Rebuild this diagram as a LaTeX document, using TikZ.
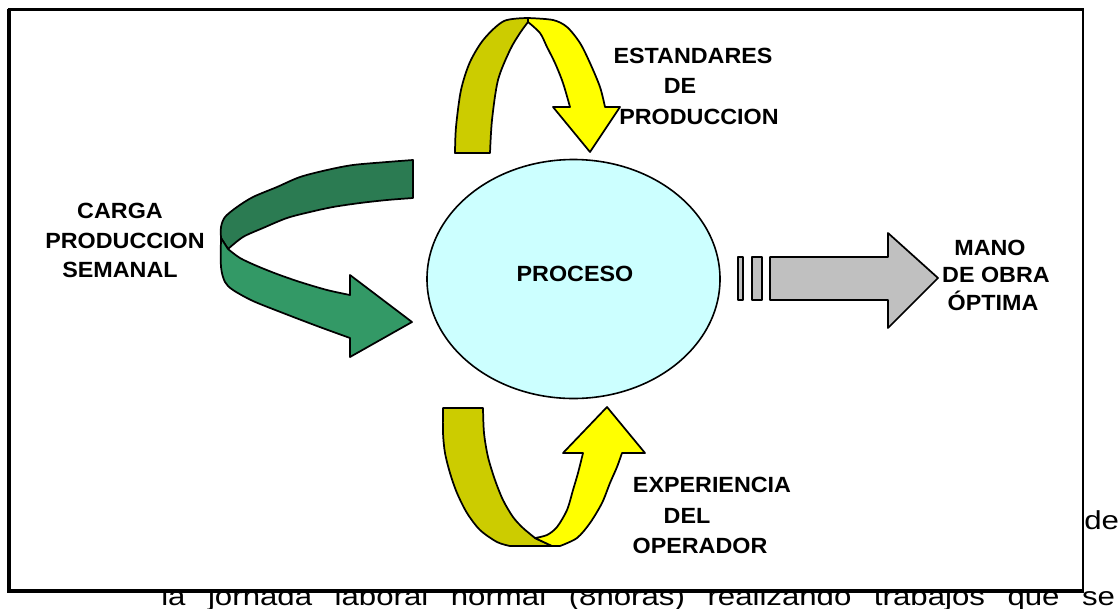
\documentclass[tikz,border=0pt]{standalone}
\usepackage{fontspec}
\usetikzlibrary{shapes.geometric}
\setmainfont{Liberation Sans}[FakeStretch=1.06]
\newfontfamily\bodyfont{Liberation Sans}[FakeStretch=1.2]
\definecolor{olivey}{HTML}{CCCC00}
\definecolor{yel}{HTML}{FFFF00}
\definecolor{gdark}{HTML}{2B7B52}
\definecolor{glight}{HTML}{339966}
\definecolor{cyanl}{HTML}{CCFFFF}
\definecolor{grayar}{HTML}{C0C0C0}
\begin{document}
\begin{tikzpicture}[x=0.75pt,y=-0.75pt,
  lab/.style={font=\bfseries\fontsize{16.5}{20}\selectfont, inner sep=0, anchor=base},
  body/.style={font=\bodyfont\fontsize{19.5}{24}\selectfont, inner sep=0, anchor=base west},
  arr/.style={draw=black, line width=1.3pt, line join=round}]
\useasboundingbox (0,0) rectangle (1118,608);
\clip (0,0) rectangle (1118,608);
\fill[white] (0,0) rectangle (1118,608);
% text behind the frame
\node[body] (de) at (1084,529) {de};
\node[body] (line2) at (161,605.5) {\makebox[715.5pt][s]{la jornada laboral normal (8horas) realizando trabajos que se}};
% frame
\fill[white] (9,10) rectangle (1083,591);
\draw[line width=2.4pt] (7.5,9.5) -- (1084,9.5);
\draw[line width=2.4pt] (9,8.5) -- (9,593);
\draw[line width=3.2pt] (7.5,591.2) -- (1084,591.2);
\draw[line width=1.5pt] (1083,8.5) -- (1083,592);
% ellipse
\node[draw=black, line width=1.2pt, fill=cyanl, ellipse, minimum width=219.75pt, minimum height=179.25pt, inner sep=0] (proc) at (573.5,279) {};
\node[lab] (proceso) at (575,281) {PROCESO};
% top arrow
\filldraw[arr, fill=olivey] plot[smooth] coordinates {(455,153) (456,127) (461,90) (470,62) (484,39) (504,21) (528,18)}
  -- plot[smooth] coordinates {(528,22) (520,33) (510,50) (498,80) (492,120) (490,153)} -- cycle;
\filldraw[arr, fill=yel] plot[smooth] coordinates {(528,18) (553,20) (567,27) (580,43) (590,63) (600,87) (605,107)}
  -- (620,107) -- (590,152) -- (553,107)
  -- plot[smooth] coordinates {(570,107) (563,83) (555,63) (547,47) (540,33) (528,22)} -- cycle;
% bottom arrow
\filldraw[arr, fill=olivey] (483,408) -- (443,408)
  -- plot[smooth] coordinates {(443,408) (443,433) (445,453) (450,473) (457,493) (467,513) (480,530) (497,542) (510,546)}
  -- (552,546) -- (535,538)
  -- plot[smooth] coordinates {(535,538) (523,528) (513,517) (503,500) (495,480) (488,457) (484,433) (483,408)} -- cycle;
\filldraw[arr, fill=yel] (535,538) -- (552,546)
  -- plot[smooth] coordinates {(560,546) (577,538) (590,523) (602,503) (610,483) (617,467) (622,453)}
  -- (645,453) -- (607,407) -- (563,453)
  -- plot[smooth] coordinates {(583,453) (578,473) (573,490) (567,510) (557,527) (547,535) (535,538)} -- cycle;
% left green arrow
\filldraw[arr, fill=gdark] plot[smooth] coordinates {(413,160) (387,162) (353,165) (327,170) (300,177) (277,187) (253,197) (237,207) (225,217) (221,227) (221,238)}
  -- (228,249)
  -- plot[smooth] coordinates {(228,249) (243,237) (263,228) (287,218) (310,212) (333,207) (360,203) (387,200) (413,198)} -- cycle;
\filldraw[arr, fill=glight] plot[smooth] coordinates {(221,238) (221,267) (225,282) (233,290) (253,301) (283,313) (317,326) (350,338)}
  -- (350,357) -- (412,322) -- (350,275)
  -- plot[smooth] coordinates {(350,295) (327,290) (300,282) (277,274) (257,266) (240,258) (228,249)} -- cycle;
% right gray arrow
\filldraw[arr, fill=grayar] (738,257) rectangle (743,300);
\filldraw[arr, fill=grayar] (752,257) rectangle (762,300);
\filldraw[arr, fill=grayar] (770,257) -- (888,257) -- (888,233) -- (938,278) -- (888,328) -- (888,300) -- (770,300) -- cycle;
% labels
\node[lab] (es1) at (693,63) {ESTANDARES};
\node[lab] (es2) at (680,93) {DE};
\node[lab] (es3) at (699,124) {PRODUCCION};
\node[lab] (ca1) at (120,218) {CARGA};
\node[lab] (ca2) at (125,248) {PRODUCCION};
\node[lab] (ca3) at (120,277) {SEMANAL};
\node[lab] (ma1) at (990,255) {MANO};
\node[lab] (ma2) at (996,282) {DE OBRA};
\node[lab] (ma3) at (993,310) {ÓPTIMA};
\node[lab] (ex1) at (712,492) {EXPERIENCIA};
\node[lab] (ex2) at (687,523) {DEL};
\node[lab] (ex3) at (700,553) {OPERADOR};
\end{tikzpicture}
\end{document}
